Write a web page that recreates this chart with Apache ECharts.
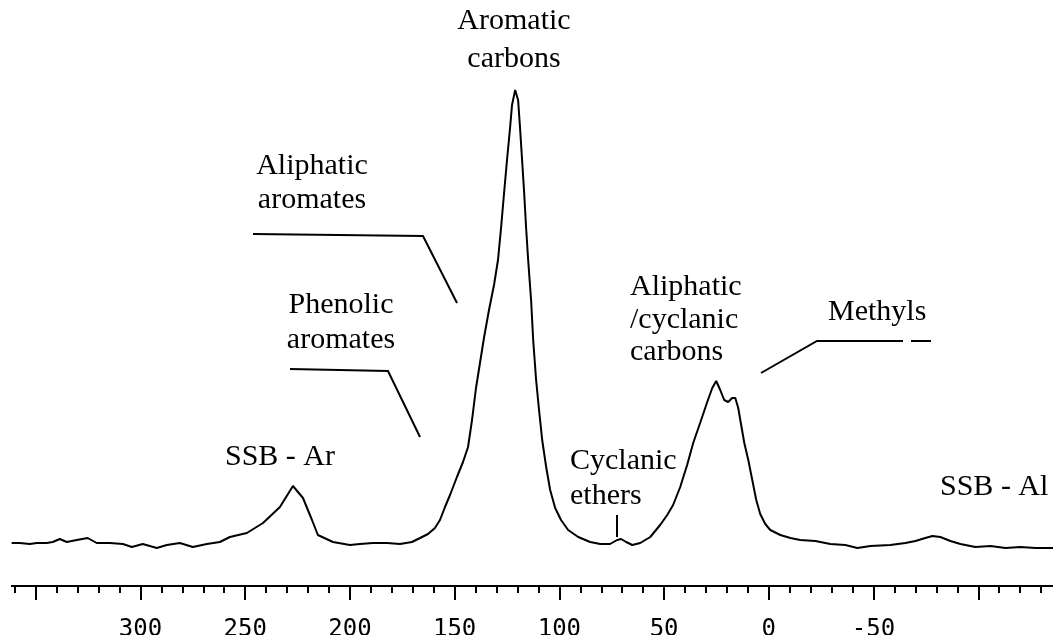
<!DOCTYPE html>
<html>
<head>
<meta charset="utf-8">
<script src="https://cdn.jsdelivr.net/npm/echarts@6/dist/echarts.min.js"></script>
<style>
  html, body { margin: 0; padding: 0; background: #fff; overflow: hidden; }
  /* the scale runs past both window edges, so the canvas does too */
  #spectrum { position: absolute; left: -69px; top: 0; width: 1152px; height: 635px; }
</style>
</head>
<body>
<div id="spectrum"></div>
<script>
// chemical shift (ppm) and intensity (a.u.)
var ppm = [361.5, 357.6, 352.9, 349.5, 344.7, 341.9, 338.5, 335.2, 330.4, 325.2,
  320.9, 314.6, 308.4, 304.1, 298.9, 292.2, 287.4, 281.2, 275.0, 268.3,
  262.1, 257.3, 249.2, 241.5, 233.4, 227.2, 222.4, 218.1, 215.3, 208.1,
  200.0, 195.2, 189.0, 182.3, 176.1, 170.4, 166.5, 162.7, 159.4, 157.0,
  154.6, 152.2, 148.9, 146.0, 143.6, 141.7, 139.8, 137.9, 136.0, 133.6,
  131.2, 129.3, 127.8, 126.4, 125.0, 123.5, 122.6, 121.1, 119.7, 118.8,
  117.8, 116.8, 115.9, 114.9, 113.5, 112.5, 111.1, 109.7, 108.2, 106.3,
  104.4, 102.0, 99.2, 95.8, 91.0, 85.3, 80.5, 75.8, 72.4, 70.5,
  68.1, 65.2, 61.4, 56.6, 51.9, 48.5, 45.7, 42.3, 39.0, 36.1,
  32.8, 29.4, 27.0, 25.1, 23.2, 21.3, 19.4, 17.5, 16.0, 14.6,
  13.2, 11.7, 9.8, 7.9, 6.0, 4.1, 1.7, -0.7, -5.5, -10.3,
  -15.0, -22.2, -29.4, -36.5, -42.3, -48.5, -58.0, -65.2, -70.0, -74.7,
  -78.1, -81.9, -86.7, -91.5, -98.6, -105.8, -113.0, -120.1, -127.3, -135.9];
var intensity = [2, 2, 1, 2, 2, 3, 6, 3, 5, 7,
  2, 2, 1, -2, 1, -3, 0, 2, -2, 1,
  3, 8, 12, 22, 38, 59, 47, 25, 10, 3,
  0, 1, 2, 2, 1, 3, 7, 11, 17, 25,
  38, 50, 68, 83, 98, 125, 157, 182, 207, 235,
  260, 285, 318, 352, 385, 418, 440, 455, 445, 418,
  385, 352, 318, 285, 245, 205, 165, 135, 105, 78,
  55, 37, 25, 15, 8, 3, 1, 1, 5, 6,
  3, 0, 2, 8, 20, 30, 40, 58, 80, 102,
  122, 143, 157, 164, 155, 145, 143, 147, 147, 137,
  120, 102, 85, 65, 45, 31, 21, 15, 10, 7,
  5, 4, 1, 0, -3, -1, 0, 2, 4, 7,
  9, 8, 4, 1, -2, -1, -3, -2, -3, -3];
var tickLabels = [300, 250, 200, 150, 100, 50, 0, -50];

// annotation texts, one entry per line (page pixels)
var notes = [
  { lines: ['Aromatic', 'carbons'], x: 514, y: [21, 59], align: 'center' },
  { lines: ['Aliphatic', 'aromates'], x: 312, y: [166, 200], align: 'center' },
  { lines: ['Phenolic', 'aromates'], x: 341, y: [305, 340], align: 'center' },
  { lines: ['SSB - Ar'], x: 280, y: [457], align: 'center' },
  { lines: ['Cyclanic', 'ethers'], x: 570, y: [461, 496], align: 'left' },
  { lines: ['Aliphatic', '/cyclanic', 'carbons'], x: 630, y: [287, 320, 352], align: 'left' },
  { lines: ['Methyls'], x: 828, y: [312], align: 'left' },
  { lines: ['SSB - Al'], x: 940, y: [487], align: 'left' }
];
var leaders = [
  [[253, 234], [423, 236], [457, 303]],
  [[290, 369], [388, 371], [420, 437]],
  [[617, 515], [617, 537]],
  [[761, 373], [817, 341], [903, 341]],
  [[911, 341], [931, 341]]
];

var chart = echarts.init(document.getElementById('spectrum'));

var children = [];
notes.forEach(function (n) {
  n.lines.forEach(function (t, i) {
    children.push({
      type: 'text',
      z: 100,
      style: {
        text: t, x: n.x, y: n.y[i],
        font: '30px "Liberation Serif"',
        fill: '#000',
        textAlign: n.align, align: n.align,
        textVerticalAlign: 'middle', verticalAlign: 'middle'
      }
    });
  });
});
leaders.forEach(function (pts) {
  children.push({
    type: 'polyline',
    z: 100,
    shape: { points: pts },
    style: { stroke: '#000', lineWidth: 2, fill: null }
  });
});
//axis line starts a little in from the left edge
children.push({
  type: 'rect',
  z: 200,
  shape: { x: 0, y: 578, width: 11, height: 12 },
  style: { fill: '#fff' }
});

var option = {
  animation: false,
  backgroundColor: '#fff',
  grid: { left: 0, right: 0, top: 85, bottom: 80, containLabel: false, outerBoundsMode: 'none' },
  xAxis: {
    type: 'value',
    inverse: true,
    min: -150,
    max: 400,
    interval: 50,
    offset: 31,
    splitLine: { show: false },
    axisLine: { onZero: false, lineStyle: { color: '#000', width: 2 } },
    axisTick: { length: 14, lineStyle: { color: '#000', width: 2 } },
    minorTick: { show: true, splitNumber: 5, length: 7, lineStyle: { color: '#000', width: 2 } },
    axisLabel: {
      margin: 32,
      color: '#000',
      fontFamily: 'DejaVu Sans Mono',
      fontSize: 24,
      showMinLabel: true,
      showMaxLabel: true,
      formatter: function (v) {
        return tickLabels.indexOf(v) > -1 ? String(v) : '';
      }
    }
  },
  yAxis: { type: 'value', show: false, min: -10, max: 460 },
  series: [{
    type: 'line',
    data: ppm.map(function (p, i) { return [p, intensity[i]]; }),
    showSymbol: false,
    symbol: 'none',
    lineStyle: { color: '#000', width: 2 },
    clip: false
  }],
  graphic: [{ type: 'group', x: 69, y: 0, z: 100, children: children }]
};
chart.setOption(option);
</script>
</body>
</html>
